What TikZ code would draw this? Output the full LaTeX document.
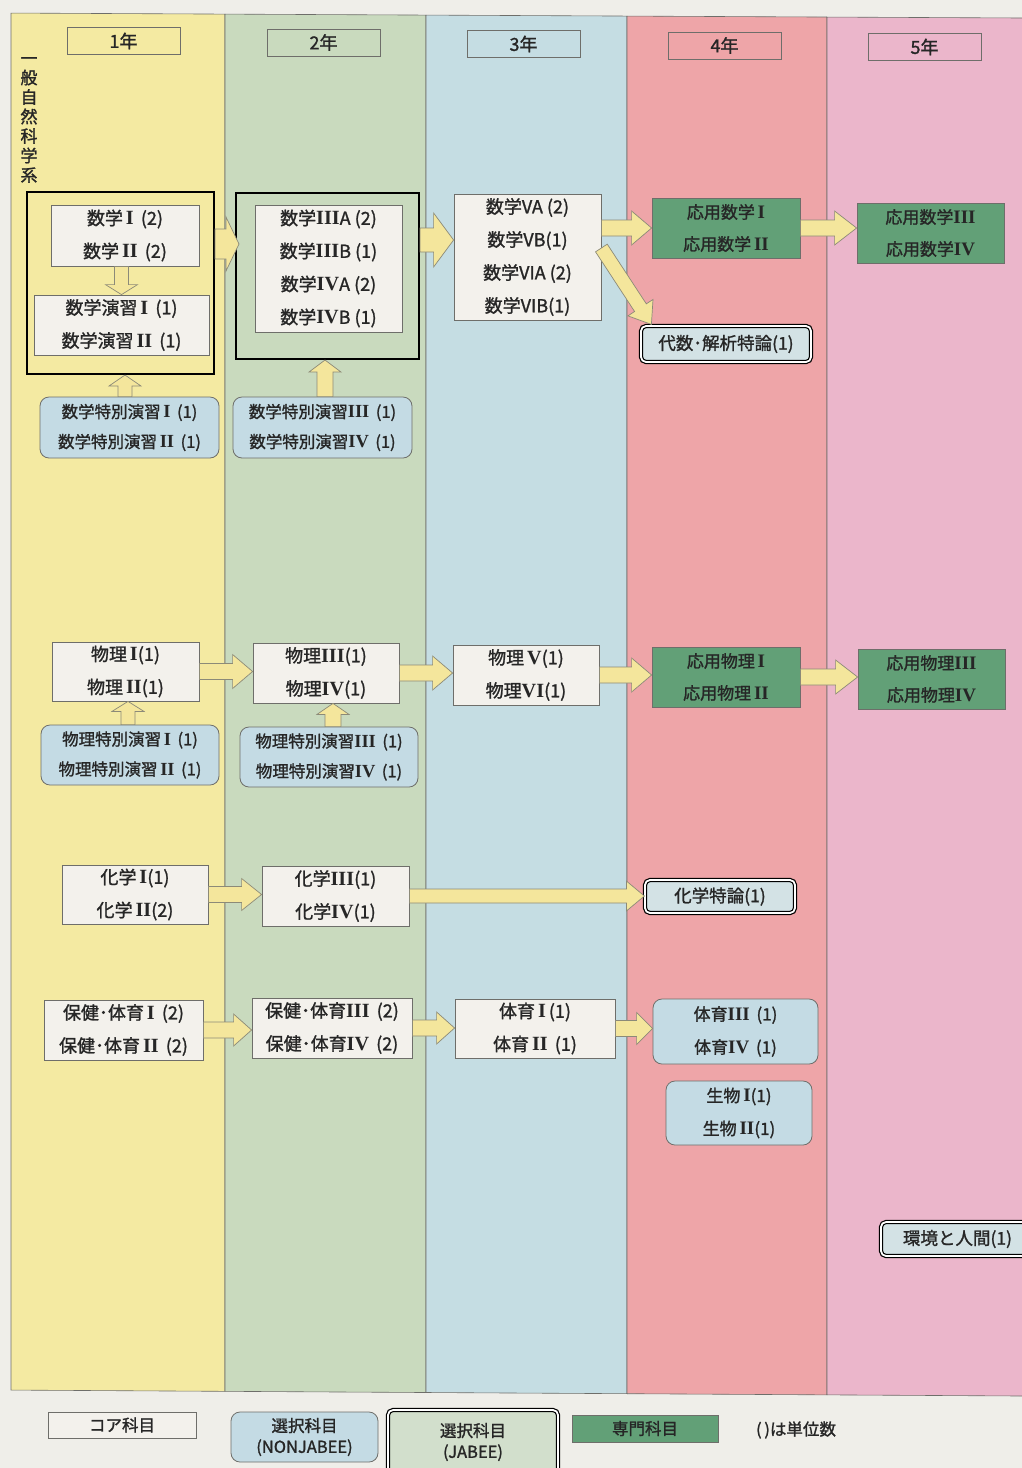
\documentclass[tikz,border=0pt]{standalone}
\usepackage{fontspec}
\setmainfont{Noto Sans CJK JP}[FakeBold=1.3]
\newfontfamily\rnfont{Liberation Serif}[Scale=1.12]
\newcommand{\RomN}[1]{{\rnfont\bfseries #1}}
\usetikzlibrary{calc}
\definecolor{bgc}{HTML}{EFEEE9}
\definecolor{cA}{HTML}{F4EAA2}
\definecolor{cB}{HTML}{C9DABE}
\definecolor{cC}{HTML}{C5DDE3}
\definecolor{cD}{HTML}{EEA5A8}
\definecolor{cE}{HTML}{EBB6CB}
\definecolor{corefill}{HTML}{F3F1EC}
\definecolor{optblue}{HTML}{C4DBE4}
\definecolor{specgreen}{HTML}{62A077}
\definecolor{jabfill}{HTML}{D3E2E5}
\definecolor{jabgreen}{HTML}{D2DFCC}
\definecolor{arrowfill}{HTML}{F4E69C}
\definecolor{arrowline}{HTML}{8C8A78}
\definecolor{linegray}{HTML}{6E6E6A}
\definecolor{txt}{HTML}{262626}
\newcommand{\myblockarrow}[5]{%
  \coordinate (bahead) at ($(#2)!#5pt!(#1)$);
  \draw[barrow] ($(#1)!#3pt!90:(#2)$) -- ($(bahead)!#3pt!-90:(#1)$) -- ($(bahead)!#4pt!-90:(#1)$) -- (#2) -- ($(bahead)!#4pt!90:(#1)$) -- ($(bahead)!#3pt!90:(#1)$) -- ($(#1)!#3pt!-90:(#2)$) -- cycle;}
\newcommand{\colband}[3]{%
  \filldraw[fill=#3, draw=linegray, line width=0.6pt] (#1,{13+5*#1/1022}) -- (#2,{13+5*#2/1022}) -- (#2,{1390+6*#2/1022}) -- (#1,{1390+6*#1/1022}) -- cycle;}
\begin{document}
\begin{tikzpicture}[x=1pt,y=-1pt,
  wh/.style 2 args={minimum width=#1pt, minimum height=#2pt},
  basebox/.style={inner sep=0pt, align=center, text=txt},
  core/.style={basebox, draw=linegray, line width=0.8pt, fill=corefill, font=\fontsize{18}{33}\selectfont},
  opt/.style={basebox, draw=linegray, line width=0.8pt, fill=optblue, rounded corners=9pt, font=\fontsize{16.5}{30}\selectfont},
  spec/.style={basebox, draw=linegray, line width=0.8pt, fill=specgreen, font=\fontsize{17}{32}\selectfont},
  jabee/.style={basebox, draw=black, line width=1.2pt, double=white, double distance=1.8pt, rounded corners=5pt, fill=jabfill, font=\fontsize{17.5}{24}\selectfont},
  bigbox/.style={draw=black, line width=2pt, inner sep=0pt},
  yearbox/.style={basebox, draw=linegray, line width=0.9pt, font=\fontsize{18}{20}\selectfont},
  barrow/.style={fill=arrowfill, draw=arrowline, line width=0.7pt, line join=miter},
]
\useasboundingbox (0,0) rectangle (1022,1468);
\clip (0,0) rectangle (1022,1468);
\fill[bgc] (0,0) rectangle (1022,1468);
% columns
\colband{11}{225}{cA}
\colband{225}{426}{cB}
\colband{426}{627}{cC}
\colband{627}{827}{cD}
\colband{827}{1040}{cE}
% year headers
\node[yearbox, wh={113}{27}] (y1) at (123.5,41) {1年};
\node[yearbox, wh={113}{27}] (y2) at (323.5,42.5) {2年};
\node[yearbox, wh={113}{27}] (y3) at (523.5,44) {3年};
\node[yearbox, wh={113}{27}] (y4) at (724.5,45.5) {4年};
\node[yearbox, wh={113}{27}] (y5) at (924.5,47) {5年};
\node[basebox, font=\fontsize{17}{19.5}\selectfont] (side) at (29,120) {一\\般\\自\\然\\科\\学\\系};
% ---------- mathematics
\node[bigbox, wh={187}{182}] (bigA) at (120.5,283) {};
\node[core, wh={148}{61}] (m12) at (125,235.5) {数学\,\RomN{I}\, (2)\\数学\,\RomN{II}\, (2)};
\node[core, wh={175}{60}] (ms12) at (121.5,325) {数学演習\,\RomN{I}\, (1)\\数学演習\,\RomN{II}\, (1)};
\node[opt, wh={179}{61}] (sp12) at (129.5,427.5) {数学特別演習\,\RomN{I}\, (1)\\数学特別演習\,\RomN{II}\, (1)};
\node[bigbox, wh={183}{166}] (bigB) at (327.5,276) {};
\node[core, wh={147}{127}] (m34) at (328.5,268.5) {数学\RomN{III}A (2)\\数学\RomN{III}B (1)\\数学\RomN{IV}A (2)\\数学\RomN{IV}B (1)};
\node[opt, wh={179}{61}] (sp34) at (322.5,427.5) {数学特別演習\RomN{III}\, (1)\\数学特別演習\RomN{IV}\, (1)};
\node[core, wh={147}{126}] (m56) at (527.5,257) {数学VA (2)\\数学VB(1)\\数学VIA (2)\\数学VIB(1)};
\node[spec, wh={148}{60}] (am12) at (726,228) {応用数学\,\RomN{I}\\応用数学\,\RomN{II}};
\node[spec, wh={147}{60}] (am34) at (930.5,233) {応用数学\RomN{III}\\応用数学\RomN{IV}};
\node[jabee, wh={170}{36}] (daisu) at (726,344) {代数･解析特論(1)};
% ---------- physics
\node[core, wh={147}{59}] (p12) at (125.5,671.5) {物理\,\RomN{I}(1)\\物理\,\RomN{II}(1)};
\node[core, wh={146}{60}] (p34) at (326,673) {物理\RomN{III}(1)\\物理\RomN{IV}(1)};
\node[core, wh={146}{60}] (p56) at (526,675) {物理\,\RomN{V}(1)\\物理\RomN{VI}(1)};
\node[spec, wh={148}{60}] (ap12) at (726,677) {応用物理\,\RomN{I}\\応用物理\,\RomN{II}};
\node[spec, wh={147}{60}] (ap34) at (931.5,679) {応用物理\RomN{III}\\応用物理\RomN{IV}};
\node[opt, wh={178}{60}] (spp12) at (130,755) {物理特別演習\,\RomN{I}\, (1)\\物理特別演習\,\RomN{II}\, (1)};
\node[opt, wh={178}{60}] (spp34) at (329,757) {物理特別演習\RomN{III}\, (1)\\物理特別演習\RomN{IV}\, (1)};
% ---------- chemistry
\node[core, wh={146}{59}] (c12) at (135,894.5) {化学\,\RomN{I}(1)\\化学\,\RomN{II}(2)};
\node[core, wh={147}{60}] (c34) at (335.5,896) {化学\RomN{III}(1)\\化学\RomN{IV}(1)};
\node[jabee, wh={150}{33}] (ctok) at (720,896.5) {化学特論(1)};
% ---------- PE / biology / environment
\node[core, wh={159}{60}] (pe12) at (123.5,1030) {保健･体育\,\RomN{I}\, (2)\\保健･体育\,\RomN{II}\, (2)};
\node[core, wh={160}{60}] (pe34) at (332,1028) {保健･体育\RomN{III}\, (2)\\保健･体育\RomN{IV}\, (2)};
\node[core, wh={160}{59}] (t12) at (535,1028.5) {体育\,\RomN{I}\,(1)\\体育\,\RomN{II}\, (1)};
\node[opt, wh={165}{65}, font=\fontsize{17}{33}\selectfont] (t34) at (735.5,1031.5) {体育\RomN{III}\, (1)\\体育\RomN{IV}\, (1)};
\node[opt, wh={146}{64}, font=\fontsize{17}{33}\selectfont] (bio) at (739,1113) {生物\,\RomN{I}(1)\\生物\,\RomN{II}(1)};
\node[jabee, wh={153}{34}] (env) at (957.5,1239) {環境と人間(1)};
% ---------- legend
\node[core, wh={148}{26}, font=\fontsize{16.5}{20}\selectfont] (lg1) at (122,1425) {コア科目};
\node[opt, wh={147}{50}, font=\fontsize{16.5}{21}\selectfont] (lg2) at (304.5,1437) {選択科目\\(NONJABEE)};
\node[jabee, fill=jabgreen, wh={170}{64}, font=\fontsize{16.5}{21}\selectfont] (lg3) at (473,1442) {選択科目\\(JABEE)};
\node[spec, wh={146}{27}, font=\fontsize{16.5}{20}\selectfont] (lg4) at (645,1428.5) {専門科目};
\node[basebox, font=\fontsize{16.5}{20}\selectfont] (lg5) at (796,1430) {(\,)は単位数};
% ---------- arrows
\coordinate (a1s) at (bigA.east |- 0,244);
\coordinate (a1e) at ($(bigB.west |- a1s)+(4,0)$);
\myblockarrow{a1s}{a1e}{15}{27}{13}
\coordinate (a2s) at (bigB.east |- 0,240);
\coordinate (a2e) at (m56.west |- a2s);
\myblockarrow{a2s}{a2e}{12}{27}{20}
\coordinate (a3s) at (m56.east |- am12.west);
\myblockarrow{a3s}{am12.west}{8}{17}{20}
\coordinate (a4s) at (am12.east);
\coordinate (a4e) at (am34.west |- am12.east);
\myblockarrow{a4s}{a4e}{8}{17}{22}
\coordinate (a5s) at ($(m56.east)+(0,-9)$);
\coordinate (a5e) at ($(daisu.north west)+(11,-1)$);
\myblockarrow{a5s}{a5e}{7}{15}{20}
\coordinate (d1s) at (ms12.north |- m12.south);
\myblockarrow{d1s}{ms12.north}{7}{16}{10}
\coordinate (u1s) at (sp12.north -| 125,0);
\coordinate (u1e) at (bigA.south -| u1s);
\myblockarrow{u1s}{u1e}{7}{16}{11}
\coordinate (u2s) at (sp34.north -| 325,0);
\coordinate (u2e) at (bigB.south -| u2s);
\myblockarrow{u2s}{u2e}{8}{16}{12}
% physics arrows
\coordinate (p1e) at (p34.west |- p12.east);
\myblockarrow{p12.east}{p1e}{8}{17}{20}
\coordinate (p2e) at (p56.west |- p34.east);
\myblockarrow{p34.east}{p2e}{8}{17}{20}
\coordinate (p3e) at (ap12.west |- p56.east);
\myblockarrow{p56.east}{p3e}{8}{17}{20}
\coordinate (p4e) at (ap34.west |- ap12.east);
\myblockarrow{ap12.east}{p4e}{8}{17}{22}
\coordinate (u3s) at (spp12.north -| 128,0);
\coordinate (u3e) at (p12.south -| u3s);
\myblockarrow{u3s}{u3e}{7}{16}{10}
\coordinate (u4s) at (spp34.north -| 333,0);
\coordinate (u4e) at (p34.south -| u4s);
\myblockarrow{u4s}{u4e}{8}{16}{11}
% chemistry arrows
\coordinate (c1e) at (c34.west |- c12.east);
\myblockarrow{c12.east}{c1e}{8}{16}{20}
\coordinate (c2e) at (ctok.west |- c34.east);
\myblockarrow{c34.east}{c2e}{7}{15}{18}
% PE arrows
\coordinate (e1e) at (pe34.west |- pe12.east);
\myblockarrow{pe12.east}{e1e}{8}{16}{18}
\coordinate (e2e) at (t12.west |- pe34.east);
\myblockarrow{pe34.east}{e2e}{8}{16}{18}
\coordinate (e3e) at (t34.west |- t12.east);
\myblockarrow{t12.east}{e3e}{8}{16}{16}
\end{tikzpicture}
\end{document}
